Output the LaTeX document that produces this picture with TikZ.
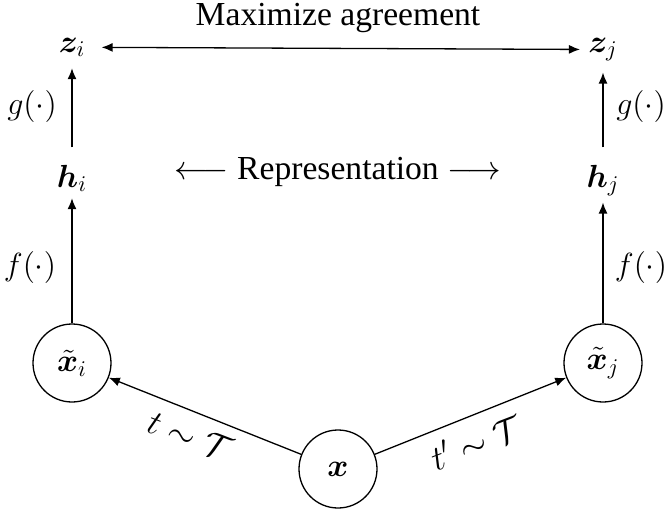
\RequirePackage{fix-cm}
\documentclass[tikz,border=0pt]{standalone}
\usepackage{amsmath,bm}
\usepackage{fontspec}
\setmainfont{Liberation Serif}
\usetikzlibrary{arrows.meta}
\begin{document}
\begin{tikzpicture}[x=0.5pt,y=-0.5pt,
  every node/.style={font=\fontsize{16}{19}\selectfont},
  txt/.style={font=\fontsize{16.8}{20}\selectfont},
  lbl/.style={inner sep=0pt, anchor=base},
  fn/.style={inner sep=0pt},
  tlab/.style={inner sep=0pt, font=\fontsize{17.5}{20}\selectfont},
  circ/.style={draw, circle, line width=0.65pt, minimum size=39pt, inner sep=0pt},
  conn/.style={line width=0.65pt, -{Latex[length=5.5pt,width=4.5pt]}},
  twoway/.style={line width=0.65pt, {Latex[length=5.5pt,width=4.5pt]}-{Latex[length=5.5pt,width=4.5pt]}}]
\useasboundingbox (0,0) rectangle (670,515);
\node[lbl, txt] (title) at (338,25) {Maximize agreement};
\node[lbl] (zi) at (72,52) {$\bm{z}_i$};
\node[lbl] (zj) at (603,52) {$\bm{z}_j$};
\node[lbl] (hi) at (72,187) {$\bm{h}_i$};
\node[lbl] (hj) at (603,187) {$\bm{h}_j$};
\node[lbl, txt] (rep) at (338,179) {$\longleftarrow$ Representation $\longrightarrow$};
\node[fn] (gi) at (32,106) {$g(\cdot)$};
\node[fn] (gj) at (641,106) {$g(\cdot)$};
\node[fn] (fi) at (30,267) {$f(\cdot)$};
\node[fn] (fj) at (641,267) {$f(\cdot)$};
\node[circ] (xi) at (72,363) {$\tilde{\bm{x}}_i$};
\node[circ] (xj) at (603,363) {$\tilde{\bm{x}}_j$};
\node[circ] (x) at (338,469) {$\bm{x}$};
\node[tlab, rotate=-21] (ti) at (190,436) {$t\sim\mathcal{T}$};
\node[tlab, rotate=21] (tj) at (476,442) {$t'\sim\mathcal{T}$};
\draw[twoway, shorten <=8pt, shorten >=4pt] (zi.east) -- (zj.west);
\draw[conn, shorten <=8.5pt, shorten >=5.5pt] (hi.north) -- (zi.south);
\draw[conn, shorten <=8.5pt, shorten >=5.5pt] (hj.north) -- (zj.south);
\draw[conn, shorten >=3pt] (xi.north) -- (hi.south);
\draw[conn, shorten >=3pt] (xj.north) -- (hj.south);
\draw[conn] (x) -- (xi);
\draw[conn] (x) -- (xj);
\end{tikzpicture}
\end{document}
